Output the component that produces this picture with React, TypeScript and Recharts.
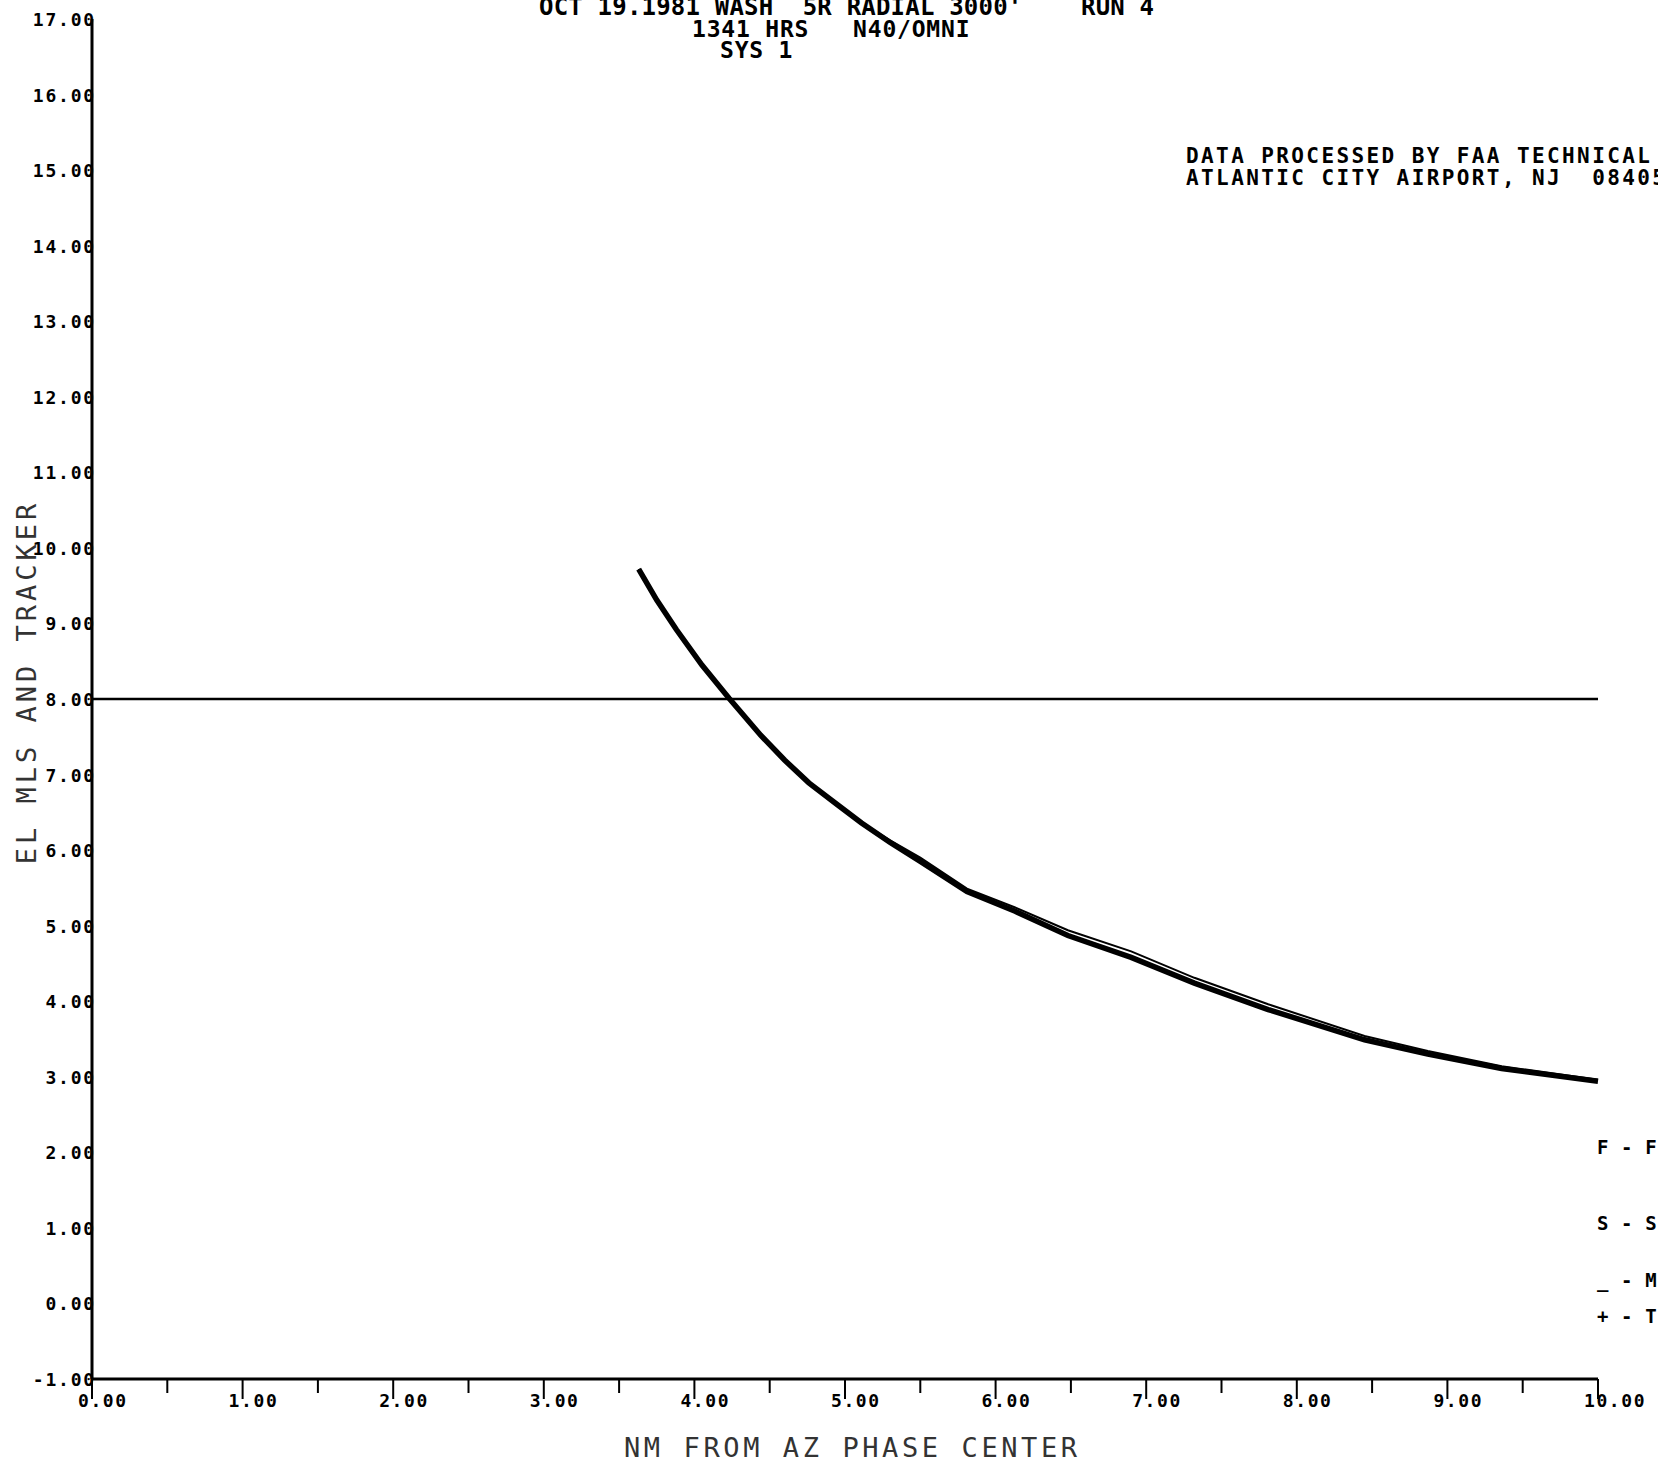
import { LineChart, Line, XAxis, YAxis, ReferenceLine } from "recharts";

// Range from the azimuth phase center (nm)
const distanceNm = [
  3.63, 3.75, 3.88, 4.05, 4.23, 4.44, 4.6, 4.76, 4.95, 5.11, 5.3, 5.5, 5.81,
  6.13, 6.48, 6.9, 7.32, 7.81, 8.45, 8.87, 9.36, 10.0,
];
// Elevation angle, MLS receiver (deg)
const mlsElevation = [
  9.72, 9.31, 8.92, 8.45, 8.01, 7.52, 7.19, 6.89, 6.6, 6.36, 6.1, 5.85, 5.45,
  5.19, 4.87, 4.58, 4.24, 3.89, 3.49, 3.3, 3.11, 2.94,
];
// Elevation angle, tracker reference (deg)
const trackerElevation = [
  9.72, 9.31, 8.92, 8.45, 8.01, 7.52, 7.19, 6.89, 6.6, 6.36, 6.13, 5.9, 5.49,
  5.24, 4.94, 4.66, 4.31, 3.96, 3.54, 3.34, 3.14, 2.96,
];
const glidePath = 8.0;

const xTicks = [
  0, 0.5, 1, 1.5, 2, 2.5, 3, 3.5, 4, 4.5, 5, 5.5, 6, 6.5, 7, 7.5, 8, 8.5, 9,
  9.5, 10,
];
const yTicks = [-1, 0, 1, 2, 3, 4, 5, 6, 7, 8, 9, 10, 11, 12, 13, 14, 15, 16, 17];

const titleLines = [
  "OCT 19.1981 WASH  5R RADIAL 3000'    RUN 4",
  "1341 HRS   N40/OMNI",
  "SYS 1",
];
const creditLines = [
  "DATA PROCESSED BY FAA TECHNICAL",
  "ATLANTIC CITY AIRPORT, NJ  08405",
];
const legendLines = ["F - F", "S - S", "_ - M", "+ - T"];

const W = 1658;
const H = 1470;
const MONO = "'DejaVu Sans Mono', 'Liberation Mono', monospace";

// keep runs of spaces the plotter used for alignment
const keepSpaces = (s: string) => s.replace(/ /g, "\u00A0");

const data = distanceNm.map((x, i) => ({
  x,
  mls: mlsElevation[i],
  tracker: trackerElevation[i],
}));

function XTick(props: any) {
  const { x, y, payload } = props;
  const major = Number.isInteger(payload.value);
  return (
    <g>
      <line x1={x} y1={y} x2={x} y2={y + (major ? 20 : 14)} stroke="#000" strokeWidth={2} />
      {major && (
        <text
          x={x - 14}
          y={y + 28}
          fontFamily={MONO}
          fontSize={18}
          fontWeight="bold"
          letterSpacing={1.6}
          fill="#000"
        >
          {payload.value.toFixed(2)}
        </text>
      )}
    </g>
  );
}

function YTick(props: any) {
  const { x, y, payload } = props;
  return (
    <text
      x={x + 4}
      y={y + 7}
      textAnchor="end"
      fontFamily={MONO}
      fontSize={18}
      fontWeight="bold"
      letterSpacing={1.8}
      fill="#000"
    >
      {payload.value.toFixed(2)}
    </text>
  );
}

export default function App() {
  return (
    <div
      style={{
        position: "absolute",
        left: 0,
        top: 0,
        width: W,
        height: H,
        background: "#fff",
        overflow: "hidden",
      }}
    >
      <LineChart
        width={W}
        height={H}
        data={data}
        margin={{ top: 19, right: 60, bottom: 31, left: 0 }}
      >
        <XAxis
          type="number"
          dataKey="x"
          domain={[0, 10]}
          ticks={xTicks}
          interval={0}
          height={60}
          tickSize={0}
          tickMargin={0}
          tickLine={false}
          axisLine={{ stroke: "#000", strokeWidth: 3 }}
          tick={<XTick />}
        />
        <YAxis
          type="number"
          domain={[-1, 17]}
          ticks={yTicks}
          interval={0}
          width={92}
          tickSize={0}
          tickMargin={0}
          tickLine={false}
          axisLine={{ stroke: "#000", strokeWidth: 3 }}
          tick={<YTick />}
        />
        <ReferenceLine y={glidePath} stroke="#000" strokeWidth={2.5} />
        <Line
          type="linear"
          dataKey="mls"
          stroke="#000"
          strokeWidth={5.5}
          dot={false}
          isAnimationActive={false}
        />
        <Line
          type="linear"
          dataKey="tracker"
          stroke="#000"
          strokeWidth={2}
          dot={false}
          isAnimationActive={false}
        />
      </LineChart>

      <svg
        width={W}
        height={H}
        style={{ position: "absolute", left: 0, top: 0, pointerEvents: "none" }}
      >
        <g fontFamily={MONO} fontWeight="bold" fill="#000">
          <text x={539} y={15} fontSize={24} letterSpacing={0.2}>{keepSpaces(titleLines[0])}</text>
          <text x={692} y={37} fontSize={23} letterSpacing={0.8}>{keepSpaces(titleLines[1])}</text>
          <text x={720} y={58} fontSize={23} letterSpacing={0.8}>{keepSpaces(titleLines[2])}</text>

          <text x={1186} y={163} fontSize={21} letterSpacing={2.4}>{keepSpaces(creditLines[0])}</text>
          <text x={1186} y={185} fontSize={21} letterSpacing={2.4}>{keepSpaces(creditLines[1])}</text>

          <text x={1597} y={1154} fontSize={19} letterSpacing={0.6}>{keepSpaces(legendLines[0])}</text>
          <text x={1597} y={1230} fontSize={19} letterSpacing={0.6}>{keepSpaces(legendLines[1])}</text>
          <text x={1597} y={1287} fontSize={19} letterSpacing={0.6}>{keepSpaces(legendLines[2])}</text>
          <text x={1597} y={1323} fontSize={19} letterSpacing={0.6}>{keepSpaces(legendLines[3])}</text>
        </g>
        <g fontFamily={MONO} fill="#333">
          <text x={624} y={1457} fontSize={27} letterSpacing={3.6}>
            NM FROM AZ PHASE CENTER
          </text>
          <text
            x={36}
            y={682}
            fontSize={27}
            letterSpacing={4}
            textAnchor="middle"
            transform="rotate(-90 36 682)"
          >
            EL MLS AND TRACKER
          </text>
        </g>
      </svg>
    </div>
  );
}
